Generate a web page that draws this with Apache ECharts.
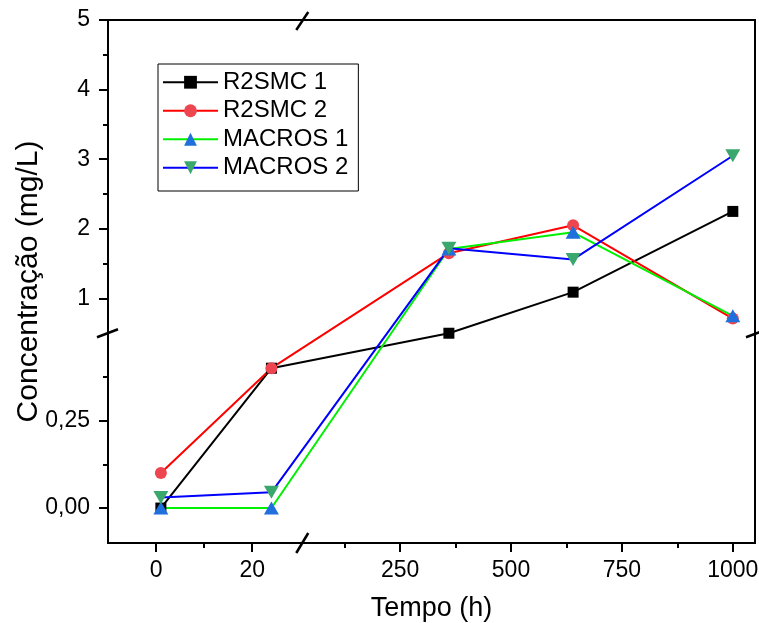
<!DOCTYPE html>
<html>
<head>
<meta charset="utf-8">
<title>Concentração x Tempo</title>
<script src="https://cdn.jsdelivr.net/npm/echarts@6/dist/echarts.min.js"></script>
<style>
  html, body { margin: 0; padding: 0; background: #fff; }
  #chart { width: 759px; height: 623px; }
</style>
</head>
<body>
<div id="chart"></div>
<script>
// Sampling times (h)
const X_TIME = [1, 24, 360, 640, 1000];

// Concentration series (mg/L)
const R2SMC_1 = [0.00, 0.40, 0.50, 1.09, 2.25];
const R2SMC_2 = [0.10, 0.40, 1.65, 2.05, 0.71];
const MACROS_1 = [0.00, 0.00, 1.71, 1.95, 0.75];
const MACROS_2 = [0.03, 0.045, 1.72, 1.56, 3.05];

// Tick positions
const X_TICKS = [0, 20, 250, 500, 750, 1000];
const X_MINOR = [10, 125, 375, 625, 875];
const Y_TICKS = [0, 0.25, 1, 2, 3, 4, 5];
const Y_MINOR = [0.125, 0.375, 1.5, 2.5, 3.5, 4.5];

// Broken axes: each axis has a detailed lower segment and a compressed upper one
const X_MIN = -10, X_BREAK = 30, X_UPPER_START = 25, X_MAX = 1050, X_RATIO = 0.0923;
const Y_MIN = -0.1, Y_BREAK = 0.5, Y_MAX = 5, Y_RATIO = 0.1991;

function tx(x) { return x <= X_BREAK ? x : X_BREAK + (x - X_UPPER_START) * X_RATIO; }
function invTx(t) { return t <= X_BREAK ? t : X_UPPER_START + (t - X_BREAK) / X_RATIO; }
function ty(v) { return v <= Y_BREAK ? v : Y_BREAK + (v - Y_BREAK) * Y_RATIO; }
function invTy(t) { return t <= Y_BREAK ? t : Y_BREAK + (t - Y_BREAK) / Y_RATIO; }

const FONT = "'Liberation Sans', Arial, sans-serif";

function pts(vals) { return X_TIME.map((x, i) => [tx(x), ty(vals[i])]); }

const DOWN_TRIANGLE = 'path://M0,0 L10,0 L5,9 Z';

const chart = echarts.init(document.getElementById('chart'), null, { renderer: 'canvas' });

const xCommon = { type: 'value', min: X_MIN, max: tx(X_MAX), splitLine: { show: false }, gridIndex: 0 };
const yCommon = { type: 'value', min: Y_MIN, max: ty(Y_MAX), splitLine: { show: false }, gridIndex: 0 };
const TICK_STYLE = { color: '#000', width: 2 };

function lineSeries(name, vals, lineColor, markColor, symbol, size) {
  return {
    name: name,
    type: 'line',
    data: pts(vals),
    symbol: symbol,
    symbolSize: size,
    showAllSymbol: true,
    lineStyle: { color: lineColor, width: 2 },
    itemStyle: { color: markColor, borderWidth: 0 },
    emphasis: { disabled: true },
    animation: false
  };
}

chart.setOption({
  animation: false,
  backgroundColor: '#fff',
  grid: {
    left: 108, top: 20, width: 647, height: 523,
    containLabel: false, outerBoundsMode: 'none',
    show: true, borderColor: '#000', borderWidth: 2
  },
  xAxis: [
    Object.assign({}, xCommon, {
      position: 'bottom',
      name: 'Tempo (h)',
      nameLocation: 'middle',
      nameGap: 52,
      nameTextStyle: { fontFamily: FONT, fontSize: 27, color: '#000' },
      axisLine: { show: true, onZero: false, lineStyle: { color: '#000', width: 2 } },
      axisTick: { show: true, inside: false, length: 9, customValues: X_TICKS.map(tx), lineStyle: TICK_STYLE },
      axisLabel: {
        show: true, margin: 16, customValues: X_TICKS.map(tx),
        fontFamily: FONT, fontSize: 23, color: '#000',
        formatter: function (t) { return String(Math.round(invTx(t))); }
      }
    }),
    Object.assign({}, xCommon, {
      position: 'bottom',
      axisLine: { show: false, onZero: false },
      axisTick: { show: true, inside: false, length: 5, customValues: X_MINOR.map(tx), lineStyle: TICK_STYLE },
      axisLabel: { show: false }
    })
  ],
  yAxis: [
    Object.assign({}, yCommon, {
      position: 'left',
      name: 'Concentração (mg/L)',
      nameLocation: 'middle',
      nameGap: 64,
      nameMoveOverlap: false,
      nameTextStyle: { fontFamily: FONT, fontSize: 30, color: '#000' },
      axisLine: { show: true, onZero: false, lineStyle: { color: '#000', width: 2 } },
      axisTick: { show: true, inside: false, length: 9, customValues: Y_TICKS.map(ty), lineStyle: TICK_STYLE },
      axisLabel: {
        show: true, margin: 18, customValues: Y_TICKS.map(ty),
        fontFamily: FONT, fontSize: 23, color: '#000',
        formatter: function (t) {
          const v = invTy(t);
          return v < Y_BREAK ? v.toFixed(2).replace('.', ',') : String(Math.round(v));
        }
      }
    }),
    Object.assign({}, yCommon, {
      position: 'left',
      axisLine: { show: false, onZero: false },
      axisTick: { show: true, inside: false, length: 5, customValues: Y_MINOR.map(ty), lineStyle: TICK_STYLE },
      axisLabel: { show: false }
    })
  ],
  legend: {
    orient: 'vertical',
    left: 158,
    top: 64,
    itemWidth: 55,
    itemHeight: 16,
    itemGap: 4,
    padding: [6, 10, 11, 4],
    borderColor: '#000',
    borderWidth: 1,
    selectedMode: false,
    lineStyle: { width: 2 },
    textStyle: { fontFamily: FONT, fontSize: 24, color: '#000', lineHeight: 24.5 },
    data: ['R2SMC 1', 'R2SMC 2', 'MACROS 1', 'MACROS 2']
  },
  series: [
    lineSeries('R2SMC 1', R2SMC_1, '#000000', '#000000', 'rect', 11),
    lineSeries('R2SMC 2', R2SMC_2, '#ff0000', '#ee4650', 'circle', 12),
    lineSeries('MACROS 1', MACROS_1, '#00f000', '#1f6fdc', 'triangle', [15, 13]),
    lineSeries('MACROS 2', MACROS_2, '#0000ff', '#3aa86c', DOWN_TRIANGLE, [15, 13])
  ]
});

// Break marks on all four sides of the frame
function breakMarks() {
  const yb = chart.convertToPixel({ gridIndex: 0 }, [X_MIN, ty(Y_BREAK)])[1];
  const xb = chart.convertToPixel({ gridIndex: 0 }, [tx(X_BREAK), Y_MIN])[0];
  const left = chart.convertToPixel({ gridIndex: 0 }, [X_MIN, Y_MIN]);
  const right = chart.convertToPixel({ gridIndex: 0 }, [tx(X_MAX), ty(Y_MAX)]);
  const style = { stroke: '#000', lineWidth: 2.5 };
  const seg = (x1, y1, x2, y2) => ({ type: 'line', shape: { x1, y1, x2, y2 }, style, z: 100, silent: true });
  return [
    seg(left[0] - 11, yb + 4, left[0] + 10, yb - 4),
    seg(right[0] - 9, yb + 4, right[0] + 10, yb - 3),
    seg(xb - 4, left[1] + 10, xb + 8, left[1] - 10),
    seg(xb - 4, right[1] + 10, xb + 8, right[1] - 8)
  ];
}

chart.setOption({ graphic: breakMarks() });
</script>
</body>
</html>
